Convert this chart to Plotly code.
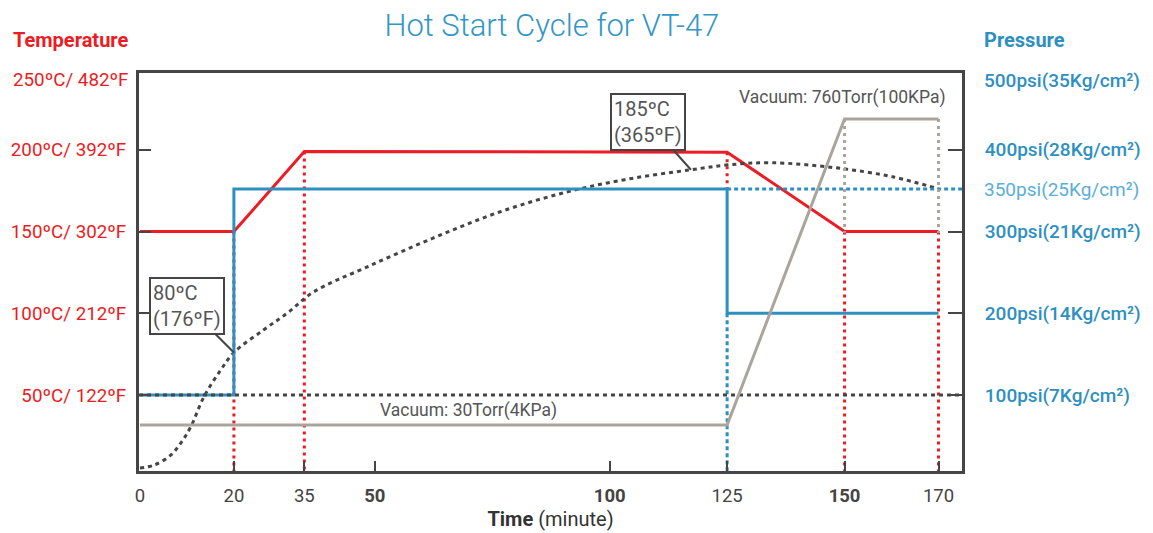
import plotly.graph_objects as go

# ---------------- data ----------------
TITLE = "Hot Start Cycle for VT-47"

X_TICKS = [0, 20, 35, 50, 100, 125, 150, 170]
X_TICK_TEXT = ["0", "20", "35", "<b>50</b>", "<b>100</b>", "125", "<b>150</b>", "170"]
X_RANGE = [-0.2, 175]

TEMP_TICKS = [50, 100, 150, 200]
TEMP_TICK_TEXT = ["50ºC/ 122ºF", "100ºC/ 212ºF", "150ºC/ 302ºF", "200ºC/ 392ºF"]
TEMP_TOP_LABEL = "250ºC/ 482ºF"
TEMP_RANGE = [3.5, 247]

PRES_TICKS = [100, 200, 300, 400]
PRES_TICK_TEXT = ["100psi(7Kg/cm²)", "200psi(14Kg/cm²)", "300psi(21Kg/cm²)", "400psi(28Kg/cm²)"]
PRES_TOP_LABEL = "500psi(35Kg/cm²)"
PRES_HOLD_LABEL = "350psi(25Kg/cm²)"
PRES_RANGE = [7, 494]

VAC_RANGE = [-79.7, 869.7]

# set-point temperature (°C)
TEMP_T = [0, 20, 35, 125, 150, 170]
TEMP_V = [150, 150, 199, 198.5, 150, 150]

# pressure (psi)
PRES_T = [0, 20, 20, 125, 125, 170]
PRES_V = [100, 100, 352, 352, 200, 200]
PRES_HOLD = 352

# vacuum (Torr)
VAC_T = [0, 125, 150, 170]
VAC_V = [30, 30, 760, 760]
VAC_GUIDE_T = [150, 170]
VAC_GUIDE_LOW = 488

# part temperature (°C)
PART_T = [0, 3.0, 6.6, 8.7, 10.8, 13.6, 17.2, 20, 26.3, 31.4, 37.0, 48.4, 62.5,
          76.7, 91.0, 104.3, 117.3, 125.2, 134.5, 148.1, 160.2, 170]
PART_V = [5.3, 7.1, 13.3, 20.6, 30.4, 48.8, 65.3, 76, 89.8, 100.2, 113.1, 128.4, 146.1,
          162.1, 174.3, 182.3, 187.8, 190.8, 192.1, 189, 183.5, 176.1]

# guide drops from the set-point line
DROP_T = [20, 35, 125, 150, 170]
DROP_TOP = [150, 199, 198.5, 150, 150]
DROP_BOTTOM = [TEMP_RANGE[0], TEMP_RANGE[0], 176, TEMP_RANGE[0], TEMP_RANGE[0]]

CALLOUTS = [(20, 76, "80ºC<br>(176ºF)", -47, -47), (117.3, 187.8, "185ºC<br>(365ºF)", -43, -48)]

RED = "#ec1c24"
BLUE = "#2e8fc1"
GRAY = "#aba49c"
DARK = "#454545"
FONT = "Roboto"


def segs(xs, y0s, y1s):
    X, Y = [], []
    for x, a, b in zip(xs, y0s, y1s):
        X += [x, x, None]
        Y += [a, b, None]
    return X, Y


fig = go.Figure()

# vacuum line (hidden axis y3)
fig.add_trace(go.Scatter(x=VAC_T, y=VAC_V, yaxis="y3", mode="lines",
                         line=dict(color=GRAY, width=3)))
gx, gy = segs(VAC_GUIDE_T, [VAC_V[-1]] * len(VAC_GUIDE_T), [VAC_GUIDE_LOW] * len(VAC_GUIDE_T))
fig.add_trace(go.Scatter(x=gx, y=gy, yaxis="y3", mode="lines",
                         line=dict(color=GRAY, width=3, dash="3px,4px")))

# pressure
fig.add_trace(go.Scatter(x=[PRES_T[3], X_RANGE[1]], y=[PRES_HOLD, PRES_HOLD], yaxis="y2",
                         mode="lines", line=dict(color=BLUE, width=3, dash="4px,3px")))
fig.add_trace(go.Scatter(x=[PRES_T[4], PRES_T[4]], y=[PRES_V[4], PRES_RANGE[0]], yaxis="y2",
                         mode="lines", line=dict(color=BLUE, width=3, dash="4px,3px")))
fig.add_trace(go.Scatter(x=PRES_T, y=PRES_V, yaxis="y2", mode="lines",
                         line=dict(color=BLUE, width=3)))
fig.add_trace(go.Scatter(x=[X_RANGE[0], X_RANGE[1]], y=[PRES_V[0], PRES_V[0]], yaxis="y2",
                         mode="lines", line=dict(color=DARK, width=3, dash="4px,4px")))

# temperature set point
fig.add_trace(go.Scatter(x=TEMP_T, y=TEMP_V, mode="lines", line=dict(color=RED, width=3)))
dx, dy = segs(DROP_T, DROP_TOP, DROP_BOTTOM)
fig.add_trace(go.Scatter(x=dx, y=dy, mode="lines",
                         line=dict(color=RED, width=3, dash="3px,4px")))

# part temperature
fig.add_trace(go.Scatter(x=PART_T, y=PART_V, mode="lines",
                         line=dict(color=DARK, width=3, dash="4px,4px", shape="spline")))

ann = []
for x, y, txt, ax, ay in CALLOUTS:
    ann.append(dict(x=x, y=y, xref="x", yref="y", text=txt, showarrow=True,
                    ax=ax, ay=ay, arrowhead=0, arrowwidth=2, arrowcolor=DARK, standoff=0,
                    bordercolor=DARK, borderwidth=2, borderpad=2, bgcolor="white",
                    align="left", font=dict(family=FONT, size=20, color="#555")))

ann += [
    dict(text="<b>Temperature</b>", xref="paper", yref="paper", x=-0.155, y=1.083,
         xanchor="left", yanchor="middle", showarrow=False,
         font=dict(family=FONT, size=20, color=RED)),
    dict(text=TEMP_TOP_LABEL, xref="paper", yref="paper", x=-0.011, y=0.982,
         xanchor="right", yanchor="middle", showarrow=False,
         font=dict(family=FONT, size=18.8, color=RED)),
    dict(text="<b>Pressure</b>", xref="paper", yref="paper", x=1.0243, y=1.083,
         xanchor="left", yanchor="middle", showarrow=False,
         font=dict(family=FONT, size=20, color=BLUE)),
    dict(text=PRES_TOP_LABEL, xref="paper", yref="paper", x=1.0243, y=0.982,
         xanchor="left", yanchor="middle", showarrow=False,
         font=dict(family=FONT, size=19, color=BLUE, weight=500)),
    dict(text=PRES_HOLD_LABEL, xref="paper", yref="y2", x=1.0243, y=PRES_HOLD,
         xanchor="left", yanchor="middle", showarrow=False,
         font=dict(family=FONT, size=19, color="#5aaed8")),
    dict(text="Vacuum: 30Torr(4KPa)", xref="x", yref="y3", x=70, y=VAC_V[0],
         yshift=15, xanchor="center", yanchor="middle", showarrow=False,
         font=dict(family=FONT, size=17.5, color="#555")),
    dict(text="Vacuum: 760Torr(100KPa)", xref="x", yref="y3", x=149.5, y=VAC_V[-1],
         yshift=21, xanchor="center", yanchor="middle", showarrow=False,
         font=dict(family=FONT, size=17.5, color="#555")),
]

fig.update_layout(
    width=1145, height=525,
    margin=dict(l=131, r=191, t=65, b=62),
    plot_bgcolor="white", paper_bgcolor="white",
    showlegend=False,
    title=dict(text=TITLE, x=0.475, xref="container", y=0.968, yref="container",
               xanchor="center", yanchor="middle", automargin=False,
               font=dict(family=FONT, size=31, color="#3396c6", weight=300)),
    xaxis=dict(range=X_RANGE, tickvals=X_TICKS, ticktext=X_TICK_TEXT, automargin=False,
               showgrid=False, zeroline=False, showline=True, mirror=True,
               linecolor=DARK, linewidth=3, ticks="inside", ticklen=10, tickwidth=2,
               tickcolor=DARK, ticklabelstandoff=6,
               tickfont=dict(family=FONT, size=18.5, color="#444"),
               title=dict(text="<b>Time</b> (minute)", standoff=4,
                          font=dict(family=FONT, size=20, color="#333"))),
    yaxis=dict(range=TEMP_RANGE, tickvals=TEMP_TICKS, ticktext=TEMP_TICK_TEXT, automargin=False,
               showgrid=False, zeroline=False, showline=True, mirror=True,
               linecolor=DARK, linewidth=3, ticks="inside", ticklen=12, tickwidth=2,
               tickcolor=DARK, ticklabelstandoff=6,
               tickfont=dict(family=FONT, size=18.8, color=RED)),
    yaxis2=dict(range=PRES_RANGE, tickvals=PRES_TICKS, ticktext=PRES_TICK_TEXT, automargin=False,
                overlaying="y", side="right", showgrid=False, zeroline=False,
                showline=True, linecolor=DARK, linewidth=3, ticks="inside", ticklen=14,
                tickwidth=2, tickcolor=DARK, ticklabelstandoff=16,
                tickfont=dict(family=FONT, size=19, color=BLUE, weight=500)),
    yaxis3=dict(range=VAC_RANGE, overlaying="y", visible=False),
    annotations=ann,
)

fig.write_html("out.html")
